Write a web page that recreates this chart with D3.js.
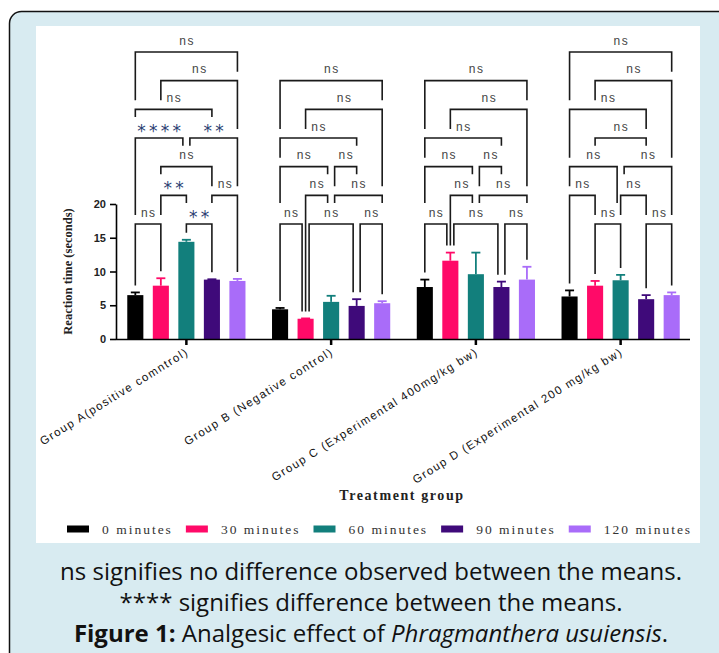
<!DOCTYPE html>
<html>
<head>
<meta charset="utf-8" />
<script src="https://cdn.jsdelivr.net/npm/d3@7"></script>
<style>
  body { margin: 0; background: #fff; }
  svg text { font-family: "Liberation Sans", Arial, sans-serif; }
  svg text.serif { font-family: "Liberation Serif", serif; }
  svg text.caption { font-family: "Open Sans", sans-serif; }
  svg text.stars { font-family: "DejaVu Sans", sans-serif; }
</style>
</head>
<body>
<svg id="chart" width="719" height="653"></svg>
<script>
  const groups = [
    "Group A(positive comntrol)",
    "Group B (Negative control)",
    "Group C (Experimental 400mg/kg bw)",
    "Group D (Experimental 200 mg/kg bw)"
  ];
  const series = ["0 minutes", "30 minutes", "60 minutes", "90 minutes", "120 minutes"];
  const colors = ["#000000", "#ff0a68", "#127f7c", "#3f0a7a", "#a96cf9"];
  const yTicks = [0, 5, 10, 15, 20];

  // mean reaction time per group, one value per time point
  const means = [
    [6.5, 7.9, 14.4, 8.8, 8.6],
    [4.4, 3.0, 5.5, 4.9, 5.3],
    [7.7, 11.6, 9.6, 7.7, 8.8],
    [6.3, 7.9, 8.7, 5.9, 6.5]
  ];
  const errors = [
    [0.4, 1.1, 0.3, 0.05, 0.3],
    [0.2, 0.05, 0.9, 1.0, 0.3],
    [1.1, 1.2, 3.2, 0.8, 1.9],
    [0.9, 0.7, 0.8, 0.6, 0.4]
  ];

  // pairwise comparisons: [bar i, bar j, label, tier]
  const compA = [[0, 4, "ns", 0], [1, 4, "ns", 1], [0, 3, "ns", 2], [0, 2, "****", 3], [2, 4, "**", 3],
    [1, 3, "ns", 4], [1, 2, "**", 5], [3, 4, "ns", 5], [0, 1, "ns", 6], [2, 3, "**", 6]];
  const compB = [[0, 4, "ns", 1], [1, 4, "ns", 2], [0, 3, "ns", 3], [0, 2, "ns", 4], [2, 3, "ns", 4],
    [1, 2, "ns", 5], [2, 4, "ns", 5], [0, 1, "ns", 6], [1, 3, "ns", 6], [3, 4, "ns", 6]];
  const compC = [[0, 4, "ns", 1], [1, 4, "ns", 2], [0, 3, "ns", 3], [0, 2, "ns", 4], [2, 3, "ns", 4],
    [1, 2, "ns", 5], [2, 4, "ns", 5], [0, 1, "ns", 6], [1, 3, "ns", 6], [3, 4, "ns", 6]];
  const compD = [[0, 4, "ns", 0], [1, 4, "ns", 1], [0, 3, "ns", 2], [1, 3, "ns", 3], [0, 2, "ns", 4],
    [2, 4, "ns", 4], [0, 1, "ns", 5], [2, 3, "ns", 5], [1, 2, "ns", 6], [3, 4, "ns", 6]];
  const comparisons = [compA, compB, compC, compD];

  const svg = d3.select("#chart");

  // page panel + white figure area
  svg.append("rect").attr("x", 9.5).attr("y", 11.5).attr("width", 760).attr("height", 700)
    .attr("rx", 12).attr("fill", "#d8ebf1").attr("stroke", "#111").attr("stroke-width", 1.5);
  svg.append("rect").attr("x", 36).attr("y", 26).attr("width", 664).attr("height", 517).attr("fill", "#fff");

  const plotLeft = 116;
  const y = d3.scaleLinear().domain([0, 20]).range([339, 204]);
  const x0 = d3.scaleBand().domain(groups).range([114, 693]);
  const x1 = d3.scaleBand().domain(series).range([0, x0.bandwidth()]).paddingInner(0.37).paddingOuter(0.52);
  const tierY = d3.scaleLinear().domain([0, 6]).range([52, 224]);
  const color = d3.scaleOrdinal().domain(series).range(colors);
  const barCenter = (gi, si) => x0(groups[gi]) + x1(series[si]) + x1.bandwidth() / 2;

  const barData = groups.flatMap((g, gi) =>
    series.map((s, si) => ({ g, gi, s, si, v: means[gi][si], e: errors[gi][si] })));

  // bars
  const plot = svg.append("g");
  plot.selectAll("rect.bar").data(barData).enter().append("rect")
    .attr("class", "bar")
    .attr("x", (d) => x0(d.g) + x1(d.s))
    .attr("y", (d) => y(d.v))
    .attr("width", x1.bandwidth())
    .attr("height", (d) => y(0) - y(d.v))
    .attr("fill", (d) => color(d.s));

  // error bars (upper only)
  const err = plot.selectAll("g.err").data(barData).enter().append("g")
    .attr("stroke", (d) => color(d.s)).attr("stroke-width", 1.8);
  err.append("line")
    .attr("x1", (d) => barCenter(d.gi, d.si)).attr("x2", (d) => barCenter(d.gi, d.si))
    .attr("y1", (d) => y(d.v)).attr("y2", (d) => y(d.v + d.e));
  err.append("line")
    .attr("x1", (d) => barCenter(d.gi, d.si) - 4.5).attr("x2", (d) => barCenter(d.gi, d.si) + 4.5)
    .attr("y1", (d) => y(d.v + d.e)).attr("y2", (d) => y(d.v + d.e));

  // axes
  const yAxis = svg.append("g").attr("transform", `translate(${plotLeft},0)`)
    .call(d3.axisLeft(y).tickValues(yTicks).tickSize(6).tickSizeOuter(0).tickPadding(4));
  yAxis.select(".domain").attr("stroke-width", 1.6);
  yAxis.selectAll(".tick line").attr("stroke-width", 1.6);
  yAxis.selectAll(".tick text").attr("font-size", 11).attr("font-weight", "bold").attr("fill", "#222");

  const xAxis = svg.append("g").attr("transform", `translate(0,${y(0)})`)
    .call(d3.axisBottom(x0).tickSize(6).tickSizeOuter(0).tickFormat(""));
  xAxis.select(".domain").attr("stroke-width", 1.6).attr("d", `M${plotLeft},0.5H690`);
  xAxis.selectAll(".tick line").attr("stroke-width", 2.5);

  svg.append("g").selectAll("text").data(groups).enter().append("text")
    .attr("transform", (d) => `translate(${x0(d) + x0.bandwidth() / 2 + 3},354) rotate(-32)`)
    .attr("text-anchor", "end")
    .attr("font-size", 11.5)
    .attr("letter-spacing", 1.4)
    .attr("fill", "#111")
    .text((d) => d);

  svg.append("text")
    .attr("class", "serif")
    .attr("transform", `translate(72,${(y(0) + y(20)) / 2}) rotate(-90)`)
    .attr("text-anchor", "middle")
    .attr("font-weight", "bold")
    .attr("font-size", 12.5)
    .attr("fill", "#222")
    .text("Reaction time (seconds)");

  svg.append("text")
    .attr("class", "serif")
    .attr("x", 402).attr("y", 500)
    .attr("text-anchor", "middle")
    .attr("font-weight", "bold")
    .attr("font-size", 14)
    .attr("letter-spacing", 1.6)
    .attr("fill", "#222")
    .text("Treatment group");

  // significance brackets
  const bracketLayer = svg.append("g");
  comparisons.forEach((comps, gi) => {
    const items = comps.map((c) => {
      const [i, j, label, tier] = c;
      let xa = barCenter(gi, i);
      let xb = barCenter(gi, j);
      if (comps.some((o) => o !== c && o[3] === tier && o[1] === i)) xa += 3.5;
      if (comps.some((o) => o !== c && o[3] === tier && o[0] === j)) xb -= 3.5;
      return { i, j, label, tier, xa, xb, ly: tierY(tier), tx: (xa + xb) / 2 };
    });

    items.forEach((it) => {
      const stars = it.label !== "ns";
      const t = bracketLayer.append("text")
        .attr("class", stars ? "stars" : null)
        .attr("x", it.tx)
        .attr("y", stars ? it.ly - 1 : it.ly - 7.5)
        .attr("text-anchor", "middle")
        .attr("font-size", stars ? 17 : 12)
        .attr("letter-spacing", stars ? 3.2 : 1.4)
        .attr("dx", stars ? 1.6 : 0.7)
        .attr("fill", stars ? "#2c3f73" : "#444")
        .text(it.label);
      it.tw = t.node().getComputedTextLength();
    });

    const legBottom = (it, x) => {
      let b = y(0);
      series.forEach((s, si) => {
        if (Math.abs(x - barCenter(gi, si)) <= x1.bandwidth() / 2 + 2) {
          b = Math.min(b, y(means[gi][si] + errors[gi][si]) - 7);
        }
      });
      items.filter((o) => o.tier > it.tier).forEach((o) => {
        if (x >= o.xa - 1 && x <= o.xb + 1) b = Math.min(b, o.ly - 9);
        if (Math.abs(x - o.tx) <= o.tw / 2 + 4) b = Math.min(b, o.ly - 21);
      });
      return b;
    };

    items.forEach((it) => {
      bracketLayer.append("path")
        .attr("d", `M${it.xa},${legBottom(it, it.xa)}V${it.ly}H${it.xb}V${legBottom(it, it.xb)}`)
        .attr("fill", "none")
        .attr("stroke", "#1a1a1a")
        .attr("stroke-width", 1.6);
    });
  });

  // legend
  const legend = svg.append("g").attr("transform", "translate(0,529)");
  let lx = 67;
  series.forEach((s) => {
    legend.append("rect").attr("x", lx).attr("y", -3.5).attr("width", 22).attr("height", 7).attr("fill", color(s));
    const t = legend.append("text")
      .attr("class", "serif")
      .attr("x", lx + 35).attr("y", 4.5)
      .attr("font-size", 13.5)
      .attr("letter-spacing", 2.0)
      .attr("fill", "#333")
      .text(s);
    lx += 35 + t.node().getComputedTextLength() + 13;
  });

  // caption
  const caption = svg.append("g").attr("font-size", 24).attr("fill", "#111").attr("text-anchor", "middle");
  caption.append("text").attr("class", "caption").attr("x", 371).attr("y", 580)
    .text("ns signifies no difference observed between the means.");
  caption.append("text").attr("class", "caption").attr("x", 371).attr("y", 611)
    .text("**** signifies difference between the means.");
  const fig = caption.append("text").attr("class", "caption").attr("x", 371).attr("y", 642);
  fig.append("tspan").attr("font-weight", "bold").text("Figure 1:");
  fig.append("tspan").text(" Analgesic effect of ");
  fig.append("tspan").attr("font-style", "italic").text("Phragmanthera usuiensis");
  fig.append("tspan").text(".");
</script>
</body>
</html>
